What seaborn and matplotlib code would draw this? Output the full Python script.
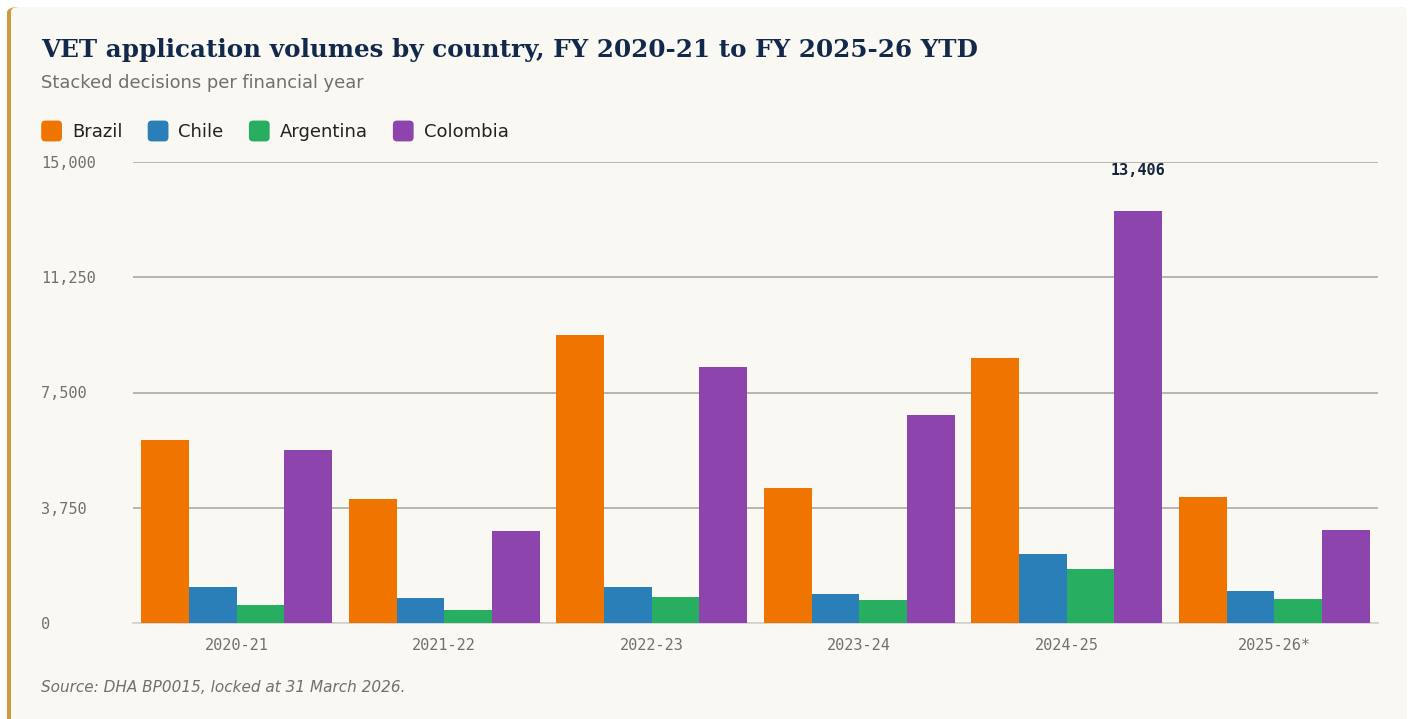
import pandas as pd
import matplotlib.pyplot as plt
import seaborn as sns
from matplotlib.patches import FancyBboxPatch, Patch
from matplotlib.legend_handler import HandlerPatch

# Values
years = ['2020-21', '2021-22', '2022-23', '2023-24', '2024-25', '2025-26*']
countries = ['Brazil', 'Chile', 'Argentina', 'Colombia']
brazil = [5960, 4040, 9370, 4390, 8620, 4100]
chile = [1175, 820, 1175, 945, 2245, 1040]
argentina = [595, 430, 845, 750, 1755, 780]
colombia = [5635, 3000, 8330, 6770, 13406, 3025]
colors = ['#f07400', '#2a7fb8', '#27ae60', '#8e44ad']

rows = []
for name, vals in zip(countries, [brazil, chile, argentina, colombia]):
    for y, v in zip(years, vals):
        rows.append({'year': y, 'country': name, 'value': v})
data = pd.DataFrame(rows)

sns.set_style('white')
plt.rcParams['font.family'] = ['DejaVu Sans']

W, H = 1411, 719
fig = plt.figure(figsize=(W / 100, H / 100), dpi=100, facecolor='white')

# card background with gold accent on the left
card_bg = '#f9f8f3'
fig.patches.append(FancyBboxPatch((7 / W, -0.05), 1400 / W, 1 - 7 / H + 0.05,
                                  boxstyle='round,pad=0,rounding_size=0.008',
                                  transform=fig.transFigure, facecolor='#d09a3c',
                                  edgecolor='none', zorder=-2))
fig.patches.append(FancyBboxPatch((11 / W, -0.05), 1396 / W, 1 - 7 / H + 0.05,
                                  boxstyle='round,pad=0,rounding_size=0.006',
                                  transform=fig.transFigure, facecolor=card_bg,
                                  edgecolor='none', zorder=-1))

ax = fig.add_axes([133 / W, 96 / H, 1245 / W, 461 / H])
ax.set_facecolor('none')

sns.barplot(data=data, x='year', y='value', hue='country', palette=colors,
            hue_order=countries, order=years, width=0.92, saturation=1,
            linewidth=0, edgecolor='none', legend=False, ax=ax, zorder=3)

ax.set_ylim(0, 15000)
ticks = [0, 3750, 7500, 11250, 15000]
ax.set_yticks(ticks)
ax.set_yticklabels([f'{t:,}' for t in ticks], family='DejaVu Sans Mono',
                   fontsize=11, color='#707070', ha='left')
ax.tick_params(axis='y', length=0, pad=66)
ax.tick_params(axis='x', length=0, pad=11)
for lab in ax.get_xticklabels():
    lab.set_family('DejaVu Sans Mono')
    lab.set_fontsize(11)
    lab.set_color('#707070')
ax.set_xlabel('')
ax.set_ylabel('')
ax.set_xlim(-0.5, len(years) - 0.5)

ax.grid(axis='y', color='#b3b1aa', linewidth=1.3, zorder=0)
ax.grid(axis='x', visible=False)
ax.set_axisbelow(True)
for s in ['top', 'right', 'left']:
    ax.spines[s].set_visible(False)
ax.spines['bottom'].set_color('#d6d4ce')
ax.spines['bottom'].set_linewidth(1.3)

# label the tallest bar
col_bars = ax.containers[3]
idx = colombia.index(max(colombia))
bar = col_bars[idx]
ax.annotate(f'{max(colombia):,}', (bar.get_x() + bar.get_width() / 2, bar.get_height()),
            xytext=(0, 29.5), textcoords='offset points', ha='center', va='center',
            family='DejaVu Sans Mono', fontweight='bold', fontsize=11, color='#14263f')

fig.text(41 / W, 1 - 50 / H, 'VET application volumes by country, FY 2020-21 to FY 2025-26 YTD',
         family='DejaVu Serif', fontweight='bold', fontsize=17.7, color='#13294b', va='center')
fig.text(41 / W, 1 - 83 / H, 'Stacked decisions per financial year',
         fontsize=12.9, color='#707070', va='center')
fig.text(41 / W, 1 - 688 / H, 'Source: DHA BP0015, locked at 31 March 2026.',
         fontsize=11, color='#707070', style='italic', va='center')


def rounded_square(legend, orig_handle, xdescent, ydescent, width, height, fontsize):
    return FancyBboxPatch((-xdescent, -ydescent), width, height,
                          boxstyle='round,pad=0,rounding_size=3')


handles = [Patch(facecolor=c, edgecolor='none', label=n) for c, n in zip(colors, countries)]
fig.legend(handles=handles, loc='center left', bbox_to_anchor=(34 / W, 1 - 131 / H),
           ncol=4, frameon=False, fontsize=13, handlelength=1.15, handleheight=1.4,
           handletextpad=0.55, columnspacing=1.4, borderaxespad=0, labelcolor='#222222',
           handler_map={Patch: HandlerPatch(patch_func=rounded_square)})

fig.savefig('out.png', dpi=100, facecolor='white')
